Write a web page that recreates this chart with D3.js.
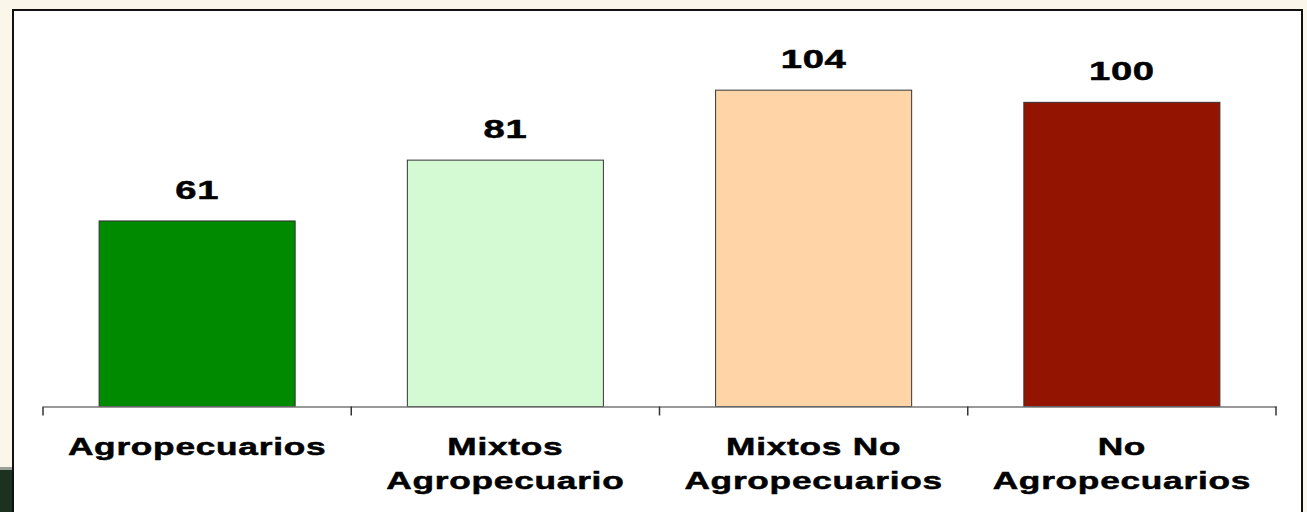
<!DOCTYPE html>
<html>
<head>
<meta charset="utf-8">
<script src="https://cdn.jsdelivr.net/npm/d3@7"></script>
<style>
  body { margin: 0; background: #faf6ea; }
  svg { display: block; }
</style>
</head>
<body>
<div class="chart"></div>
<script>
// data
const categories = ["Agropecuarios", "Mixtos Agropecuario", "Mixtos No Agropecuarios", "No Agropecuarios"]
const labelLines = [["Agropecuarios"], ["Mixtos", "Agropecuario"], ["Mixtos No", "Agropecuarios"], ["No", "Agropecuarios"]]
const values = [61, 81, 104, 100]
const colors = ["#008a00", "#d4fad4", "#ffd5a8", "#931400"]

const width = 1307, height = 512

const svg = d3.select(".chart").append("svg")
    .attr("width", width)
    .attr("height", height)

svg.append("rect")
    .attr("width", width).attr("height", height)
    .attr("fill", "#faf6ea")

// dark strip peeking out at bottom left
svg.append("rect")
    .attr("x", 0).attr("y", 467).attr("width", 13).attr("height", 4)
    .attr("fill", "#9aa096")
svg.append("rect")
    .attr("x", 0).attr("y", 470).attr("width", 13).attr("height", 42)
    .attr("fill", "#1d3121")

// white panel
svg.append("rect")
    .attr("x", 13).attr("y", 10)
    .attr("width", 1289).attr("height", 520)
    .attr("fill", "#fff")
    .attr("stroke", "#111")
    .attr("stroke-width", 2)

const x = d3.scaleBand()
    .domain(categories)
    .range([43, 1276])
    .paddingInner(0.364)
    .paddingOuter(0.182)

const y = d3.scaleLinear()
    .domain([0, 120])
    .range([406.5, 41.5])

const stretch = 1.47

// bars
svg.append("g")
    .selectAll("rect")
    .data(values)
    .join("rect")
    .attr("x", (d, i) => x(categories[i]))
    .attr("y", d => y(d))
    .attr("width", x.bandwidth())
    .attr("height", d => y(0) - y(d))
    .attr("fill", (d, i) => colors[i])
    .attr("stroke", "#333")
    .attr("stroke-width", 1)

// value labels
svg.append("g")
    .selectAll("text")
    .data(values)
    .join("text")
    .attr("transform", (d, i) => `translate(${x(categories[i]) + x.bandwidth() / 2},${y(d) - 22}) scale(${stretch},1)`)
    .attr("text-anchor", "middle")
    .attr("stroke", "#000")
    .attr("stroke-width", 0.5)
    .style("font-family", "'Liberation Sans', Arial, sans-serif")
    .style("font-weight", "bold")
    .style("font-size", "26px")
    .style("letter-spacing", "0.5px")
    .text(d => d)

// axis line with ticks at category boundaries
const axis = svg.append("g")
    .attr("transform", `translate(0,${y(0)})`)
    .call(d3.axisBottom(x).tickSize(0).tickFormat(""))
axis.select(".domain").attr("stroke", "#777").attr("stroke-width", 1.5)

const bounds = d3.range(categories.length + 1).map(i => x.range()[0] + i * x.step())
axis.selectAll(".bound")
    .data(bounds)
    .join("line")
    .attr("class", "bound")
    .attr("x1", d => d).attr("x2", d => d)
    .attr("y1", 0).attr("y2", 9)
    .attr("stroke", "#333")
    .attr("stroke-width", 1.5)

// category labels
const cat = svg.append("g")
    .selectAll("g")
    .data(labelLines)
    .join("g")
    .attr("transform", (d, i) => `translate(${x(categories[i]) + x.bandwidth() / 2},0)`)

cat.selectAll("text")
    .data(d => d)
    .join("text")
    .attr("transform", (d, j) => `translate(0,${455 + j * 33.5}) scale(${stretch},1)`)
    .attr("text-anchor", "middle")
    .attr("stroke", "#000")
    .attr("stroke-width", 0.5)
    .style("font-family", "'Liberation Sans', Arial, sans-serif")
    .style("font-weight", "bold")
    .style("font-size", "24px")
    .style("letter-spacing", "0.5px")
    .text(d => d)
</script>
</body>
</html>
